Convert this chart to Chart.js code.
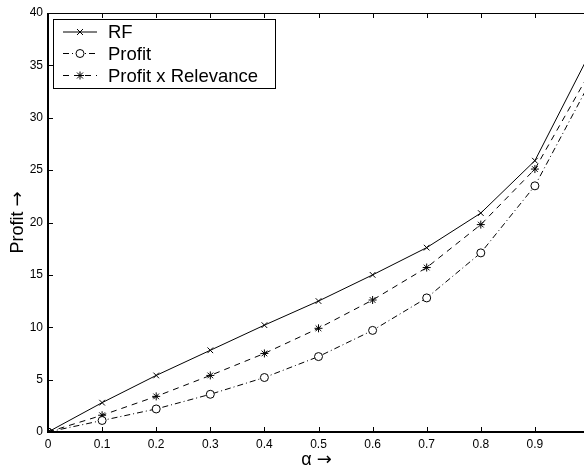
<!DOCTYPE html>
<html>
<head>
<meta charset="utf-8">
<script src="https://cdn.jsdelivr.net/npm/chart.js@4/dist/chart.umd.min.js"></script>
<style>
html, body { margin: 0; padding: 0; background: #fff; overflow: hidden; }
#wrap { width: 584px; height: 466px; overflow: hidden; }
</style>
</head>
<body>
<div id="wrap"><canvas id="mycanvas" width="600" height="466"></canvas></div>
<script>
// values
var alphas = [0, 0.1, 0.2, 0.3, 0.4, 0.5, 0.6, 0.7, 0.8, 0.9, 1.0];
var rf = [0, 2.8, 5.4, 7.8, 10.2, 12.5, 15.0, 17.6, 20.9, 25.9, 36.0];
var profit = [0, 1.1, 2.2, 3.6, 5.2, 7.2, 9.7, 12.8, 17.1, 23.5, 33.2];
var profitRel = [0, 1.6, 3.4, 5.4, 7.5, 9.9, 12.6, 15.7, 19.8, 25.1, 34.2];
var xTicks = [0, 0.1, 0.2, 0.3, 0.4, 0.5, 0.6, 0.7, 0.8, 0.9, 1];
var yTicks = [0, 5, 10, 15, 20, 25, 30, 35, 40];
var seriesNames = ['RF', 'Profit', 'Profit x Relevance'];
var xTitle = 'α';
var yTitle = 'Profit';

function toPoints(ys) {
    var pts = [];
    for (var i in alphas) {
        pts.push({x: alphas[i], y: ys[i]});
    }
    return pts;
}

var tickFont = {family: 'Liberation Sans', size: 12};

function drawMarker(ctx, style, x, y) {
    var r = 4;
    ctx.beginPath();
    if (style === 'circle') {
        ctx.arc(x, y, r, 0, Math.PI * 2);
        ctx.fillStyle = '#fff';
        ctx.fill();
    } else {
        var d = r * 0.75;
        ctx.moveTo(x - d, y - d); ctx.lineTo(x + d, y + d);
        ctx.moveTo(x - d, y + d); ctx.lineTo(x + d, y - d);
        if (style === 'star') {
            ctx.moveTo(x, y - r); ctx.lineTo(x, y + r);
            ctx.moveTo(x - r, y); ctx.lineTo(x + r, y);
        }
    }
    ctx.stroke();
}

// title text followed by a big arrow, centred on (cx, cy)
function drawArrowTitle(ctx, text, cx, cy, angle) {
    ctx.save();
    ctx.translate(cx, cy);
    ctx.rotate(angle);
    ctx.fillStyle = '#000';
    ctx.textBaseline = 'middle';
    ctx.textAlign = 'left';
    ctx.font = '18px "Liberation Sans"';
    var w1 = ctx.measureText(text + ' ').width;
    ctx.font = '18px "DejaVu Sans"';
    var w2 = ctx.measureText('→').width;
    var x0 = -(w1 + w2) / 2;
    ctx.font = '18px "Liberation Sans"';
    ctx.fillText(text + ' ', x0, 0);
    ctx.font = '18px "DejaVu Sans"';
    ctx.fillText('→', x0 + w1, 0);
    ctx.restore();
}

// matlab style frame: box, inward ticks, titles, boxed legend in the top left
var framePlugin = {
    id: 'frame',
    afterDraw: function(chart) {
        var ctx = chart.ctx;
        var a = chart.chartArea;
        var xs = chart.scales.x, ys = chart.scales.y;
        ctx.save();
        ctx.strokeStyle = '#000';
        ctx.lineWidth = 1;
        ctx.setLineDash([]);
        ctx.beginPath();
        xTicks.forEach(function(v) {
            var px = Math.round(xs.getPixelForValue(v)) + 0.5;
            ctx.moveTo(px, a.bottom); ctx.lineTo(px, a.bottom - 5);
            ctx.moveTo(px, a.top); ctx.lineTo(px, a.top + 5);
        });
        yTicks.forEach(function(v) {
            var py = Math.round(ys.getPixelForValue(v)) + 0.5;
            ctx.moveTo(a.left, py); ctx.lineTo(a.left + 5, py);
            ctx.moveTo(a.right, py); ctx.lineTo(a.right - 5, py);
        });
        ctx.stroke();
        ctx.strokeRect(Math.round(a.left) + 0.5, Math.round(a.top) + 0.5,
            Math.round(a.right - a.left), Math.round(a.bottom - a.top));
        ctx.lineWidth = 2;
        ctx.beginPath();
        ctx.moveTo(Math.round(a.left), a.top);
        ctx.lineTo(Math.round(a.left), Math.round(a.bottom));
        ctx.lineTo(a.right, Math.round(a.bottom));
        ctx.stroke();

        drawArrowTitle(ctx, xTitle, (a.left + a.right) / 2 - 2, 460, 0);
        drawArrowTitle(ctx, yTitle, 18, (a.top + a.bottom) / 2, -Math.PI / 2);

        // legend
        var lx = 53, ly = 19, lw = 222, lh = 69;
        ctx.lineWidth = 1;
        ctx.fillStyle = '#fff';
        ctx.fillRect(lx, ly, lw, lh);
        ctx.strokeRect(lx + 0.5, ly + 0.5, lw, lh);
        var rows = [32, 53.5, 75.5];
        ctx.font = '18.5px "Liberation Sans"';
        ctx.textBaseline = 'middle';
        chart.data.datasets.forEach(function(ds, i) {
            var y = rows[i];
            ctx.strokeStyle = '#000';
            ctx.lineWidth = 1;
            ctx.setLineDash(ds.borderDash || []);
            ctx.beginPath();
            ctx.moveTo(63, y); ctx.lineTo(97, y);
            ctx.stroke();
            ctx.setLineDash([]);
            drawMarker(ctx, ds.pointStyle, 80, y);
            ctx.fillStyle = '#000';
            ctx.fillText(ds.label, 108, y + 1);
        });
        ctx.restore();
    }
};

var chartdata = {
    datasets: [
        {
            label: seriesNames[0],
            data: toPoints(rf),
            borderColor: '#000',
            borderWidth: 1,
            pointStyle: 'crossRot',
            pointRadius: 4,
            pointBorderColor: '#000',
            pointBorderWidth: 1
        },
        {
            label: seriesNames[1],
            data: toPoints(profit),
            borderColor: '#000',
            borderWidth: 1,
            borderDash: [6, 3, 1, 3],
            pointStyle: 'circle',
            pointRadius: 4,
            pointBackgroundColor: '#fff',
            pointBorderColor: '#000',
            pointBorderWidth: 1
        },
        {
            label: seriesNames[2],
            data: toPoints(profitRel),
            borderColor: '#000',
            borderWidth: 1,
            borderDash: [6, 5],
            pointStyle: 'star',
            pointRadius: 4,
            pointBorderColor: '#000',
            pointBorderWidth: 1
        }
    ]
};

var ctx = document.getElementById('mycanvas');
var lineGraph = new Chart(ctx, {
    type: 'line',
    data: chartdata,
    plugins: [framePlugin],
    options: {
        responsive: false,
        animation: false,
        devicePixelRatio: 1,
        layout: {padding: {top: 13, right: 11, left: 0, bottom: 0}},
        plugins: {legend: {display: false}, tooltip: {enabled: false}},
        scales: {
            x: {
                type: 'linear',
                min: 0,
                max: 1,
                afterBuildTicks: function(s) { s.ticks = xTicks.map(function(v) { return {value: v}; }); },
                afterFit: function(s) { s.height = 34; },
                grid: {display: false, drawTicks: false},
                border: {display: false},
                ticks: {color: '#000', font: tickFont, padding: 5, maxRotation: 0,
                    callback: function(v) { return String(v); }}
            },
            y: {
                min: 0,
                max: 40,
                afterBuildTicks: function(s) { s.ticks = yTicks.map(function(v) { return {value: v}; }); },
                afterFit: function(s) { s.width = 48; },
                grid: {display: false, drawTicks: false},
                border: {display: false},
                ticks: {color: '#000', font: tickFont, padding: 5}
            }
        }
    }
});
</script>
</body>
</html>
